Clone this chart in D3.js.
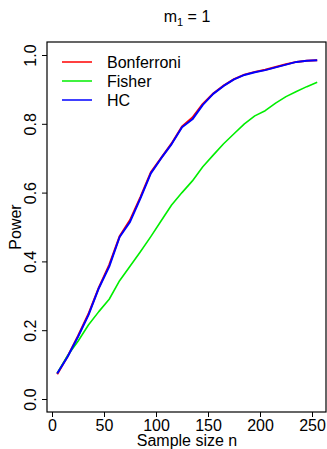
<!DOCTYPE html>
<html><head><meta charset="utf-8">
<script src="https://cdn.jsdelivr.net/npm/d3@7"></script>
<style>body{margin:0;background:#fff}svg{display:block}text{font-family:"Liberation Sans",Arial,sans-serif;fill:#000}</style>
</head><body><svg id="c" width="327" height="449"></svg>
<script>
const sampleSizes = [5,15,25,35,45,55,65,75,85,95,105,115,125,135,145,155,165,175,185,195,205,215,225,235,245,255];
const bonferroni = [0.072,0.124,0.183,0.247,0.324,0.390,0.473,0.520,0.587,0.659,0.701,0.743,0.792,0.818,0.858,0.888,0.911,0.930,0.943,0.951,0.957,0.965,0.973,0.980,0.983,0.985];
const fisher =     [0.075,0.126,0.168,0.215,0.254,0.290,0.344,0.386,0.428,0.472,0.518,0.564,0.600,0.634,0.675,0.709,0.742,0.771,0.800,0.823,0.838,0.860,0.879,0.894,0.908,0.921];
const hc =         [0.074,0.123,0.181,0.244,0.322,0.385,0.471,0.515,0.583,0.656,0.700,0.741,0.790,0.813,0.855,0.887,0.910,0.929,0.942,0.950,0.956,0.964,0.972,0.980,0.983,0.985];
const xTicks = [0,50,100,150,200,250];
const yTicks = [0,0.2,0.4,0.6,0.8,1.0];
const seriesNames = ["Bonferroni","Fisher","HC"];
const seriesColors = ["#ff0000","#00ee00","#0000ff"];

const svg = d3.select("#c");
const box = {l:47, t:42, r:326, b:412};
const x = d3.scaleLinear().domain([0,250]).range([52,312]);
const y = d3.scaleLinear().domain([0,1]).range([399,55]);

const series = [
  {name:seriesNames[0], vals:bonferroni, color:seriesColors[0], w:2},
  {name:seriesNames[1], vals:fisher, color:seriesColors[1], w:1.6},
  {name:seriesNames[2], vals:hc, color:seriesColors[2], w:2}
];
const line = d3.line().x(d=>x(d[0])).y(d=>y(d[1]));
series.forEach(s=>{
  svg.append("path").attr("d", line(sampleSizes.map((n,i)=>[n,s.vals[i]])))
    .attr("fill","none").attr("stroke",s.color).attr("stroke-width",s.w).attr("stroke-linejoin","round");
});

// box
svg.append("rect").attr("x",box.l).attr("y",box.t).attr("width",box.r-box.l).attr("height",box.b-box.t)
  .attr("fill","none").attr("stroke","#000").attr("stroke-width",1.2);

// x axis
const xa = svg.append("g").attr("transform",`translate(0,${box.b})`)
  .call(d3.axisBottom(x).tickValues(xTicks).tickSize(5).tickFormat(d3.format("d")));
xa.select(".domain").remove();
xa.selectAll("text").attr("font-size",16).attr("font-family","Liberation Sans, Arial, sans-serif").attr("dy","0.85em").attr("y",5);
xa.selectAll("line").attr("stroke","#000");

// y axis
const ya = svg.append("g").attr("transform",`translate(${box.l},0)`)
  .call(d3.axisLeft(y).tickValues(yTicks).tickSize(5).tickFormat(d3.format(".1f")));
ya.select(".domain").remove();
ya.selectAll("line").attr("stroke","#000");
ya.selectAll(".tick text").attr("font-size",16).attr("font-family","Liberation Sans, Arial, sans-serif")
  .attr("x",null).attr("dy",null).attr("text-anchor","middle")
  .attr("transform","translate(-11,0) rotate(-90)").attr("y",0).attr("dy","0");

// labels
svg.append("text").attr("x",187).attr("y",446).attr("text-anchor","middle").attr("font-size",16).text("Sample size n");
svg.append("text").attr("transform","translate(21,227) rotate(-90)").attr("text-anchor","middle").attr("font-size",16).text("Power");
const title = svg.append("text").attr("x",187).attr("y",22).attr("text-anchor","middle").attr("font-size",16);
title.append("tspan").text("m");
title.append("tspan").attr("font-size",11).attr("dy",4).text("1");
title.append("tspan").attr("dy",-4).text(" = 1");

// legend
series.forEach((s,i)=>{
  const ly = 62 + i*19;
  svg.append("line").attr("x1",62).attr("x2",92).attr("y1",ly).attr("y2",ly).attr("stroke",s.color).attr("stroke-width",1.5);
  svg.append("text").attr("x",107).attr("y",ly+5.5).attr("font-size",16).text(s.name);
});
</script></body></html>
